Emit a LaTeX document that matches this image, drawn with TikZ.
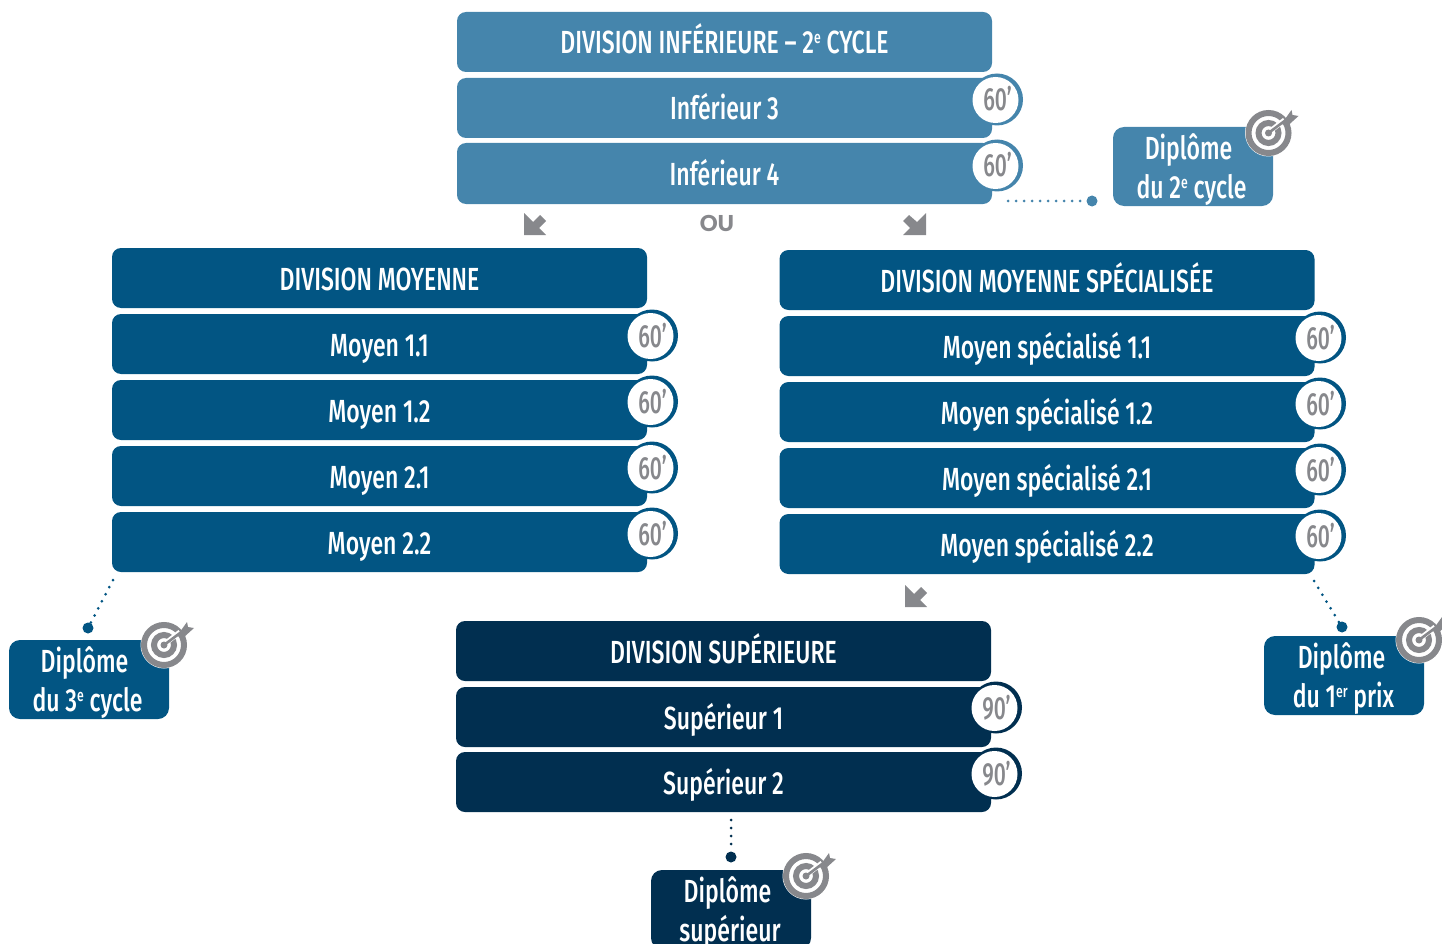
\documentclass[tikz,border=0pt]{standalone}
\usepackage{fontspec}
\setmainfont[FakeStretch=0.72]{Fira Sans Medium}
\newfontfamily\ouf{Lato Black}
\newfontfamily\tmf[FakeStretch=0.66]{Fira Sans Medium}
\definecolor{clight}{HTML}{4585AC}
\definecolor{cmid}{HTML}{025583}
\definecolor{cdark}{HTML}{012F50}
\definecolor{cgray}{HTML}{87888C}
\newcommand\sups[1]{\raisebox{10pt}{\fontsize{17}{17}\selectfont #1}}
\newcommand\lift{\rule{0pt}{31pt}}
% ring behind, white face with the minutes on top
\newcommand\timer[5]{%
  \node[timering=#2] (#1r) at (#3+1.5,#4-0.5) {};
  \node[timeface] (#1) at (#3,#4) {\kern4pt #5’};
}
\tikzset{
  x=1pt,y=-1pt,
  rowbox/.style={rounded corners=9pt,inner sep=0pt,minimum width=535pt,minimum height=60pt,
    text=white,font=\fontsize{32}{32}\selectfont,text height=24pt,text depth=0pt,align=center},
  timering/.style={circle,fill=#1,inner sep=0pt,minimum size=52pt},
  timeface/.style={circle,fill=white,inner sep=0pt,minimum size=46pt,
    text=cgray,font=\tmf\fontsize{32}{32}\selectfont,text height=22pt,text depth=0pt},
  diplo/.style={rounded corners=11pt,fill=#1,inner sep=0pt,minimum width=160pt,minimum height=79pt,
    text=white,font=\fontsize{32}{39}\selectfont,align=center},
  enddot/.style={circle,fill=#1,inner sep=0pt,minimum size=11pt},
  link/.style={draw=#1,line width=3pt,line cap=round,dash pattern=on 0pt off 8pt},
  bigarrow/.style={fill=cgray,draw=none},
  target/.pic={
    \fill[white] (0,0) circle (23.5);
    \draw[cgray,line width=6pt] (0,0) circle (20);
    \draw[cgray,line width=6pt] (0,0) circle (10);
    \draw[white,line width=5pt] (3,-3) -- (16,-13);
    \fill[cgray] (0,0) circle (3.5);
    \draw[cgray,line width=2.6pt] (0,0) -- (20,-15);
    \fill[cgray] (13,-9) -- (23,-23) -- (24,-18) -- (30,-17) -- (19,-7) -- cycle;
  },
}
\begin{document}
\begin{tikzpicture}
\useasboundingbox (0,0) rectangle (1442,944);
\clip (0,0) rectangle (1442,944);
% Division inferieure
\node[rowbox,fill=clight] (i0) at (724.5,42) {DIVISION INFÉRIEURE – 2\sups{e} CYCLE};
\node[rowbox,fill=clight] (i1) at (724.5,108) {Inférieur 3};
\node[rowbox,fill=clight,minimum height=61pt] (i2) at (724.5,173.5) {Inférieur 4};
\timer{ti1}{clight}{995.5}{100}{60}
\timer{ti2}{clight}{995.5}{166}{60}
% Division moyenne
\node[rowbox,fill=cmid] (m0) at (379.5,278) {DIVISION MOYENNE};
\node[rowbox,fill=cmid] (m1) at (379.5,344) {Moyen 1.1};
\node[rowbox,fill=cmid] (m2) at (379.5,410) {Moyen 1.2};
\node[rowbox,fill=cmid] (m3) at (379.5,476) {Moyen 2.1};
\node[rowbox,fill=cmid] (m4) at (379.5,542) {Moyen 2.2};
\timer{tm1}{cmid}{650.5}{336}{60}
\timer{tm2}{cmid}{650.5}{402}{60}
\timer{tm3}{cmid}{650.5}{468}{60}
\timer{tm4}{cmid}{650.5}{534}{60}
% Division moyenne specialisee
\node[rowbox,fill=cmid] (s0) at (1047,280) {DIVISION MOYENNE SPÉCIALISÉE};
\node[rowbox,fill=cmid] (s1) at (1047,346) {Moyen spécialisé 1.1};
\node[rowbox,fill=cmid] (s2) at (1047,412) {Moyen spécialisé 1.2};
\node[rowbox,fill=cmid] (s3) at (1047,478) {Moyen spécialisé 2.1};
\node[rowbox,fill=cmid] (s4) at (1047,544) {Moyen spécialisé 2.2};
\timer{ts1}{cmid}{1318.5}{338}{60}
\timer{ts2}{cmid}{1318.5}{404}{60}
\timer{ts3}{cmid}{1318.5}{470}{60}
\timer{ts4}{cmid}{1318.5}{536}{60}
% Division superieure
\node[rowbox,fill=cdark] (u0) at (723.5,651) {DIVISION SUPÉRIEURE};
\node[rowbox,fill=cdark] (u1) at (723.5,717) {Supérieur 1};
\node[rowbox,fill=cdark] (u2) at (723.5,782) {Supérieur 2};
\timer{tu1}{cdark}{994.5}{708}{90}
\timer{tu2}{cdark}{994.5}{774}{90}
% Diplomes
\node[diplo=clight] (d2) at (1193,166.5) {\lift Diplôme\kern9pt\\du 2\sups{e} cycle\kern3pt};
\node[diplo=cmid] (d3) at (89,679.5) {\lift Diplôme\kern9pt\\du 3\sups{e} cycle\kern3pt};
\node[diplo=cmid] (d1) at (1344,675.5) {\lift Diplôme\kern5pt\\du 1\sups{er} prix\kern1pt};
\node[diplo=cdark] (ds) at (731,909.5) {\lift Diplôme\kern7pt\\supérieur\kern2pt};
\pic at (1268.5,133) {target};
\pic at (164,645) {target};
\pic at (1419,640) {target};
\pic at (806,876) {target};
% Dotted connectors
\coordinate (c2) at (1008,201);
\node[enddot=clight] (e2) at (1092,201) {};
\path[link=clight] (c2) -- (e2);
\coordinate (c3) at (113,580);
\node[enddot=cmid] (e3) at (88,628) {};
\path[link=cmid] (c3) -- (e3);
\coordinate (c1) at (1314,581);
\node[enddot=cmid] (e1) at (1342,627) {};
\path[link=cmid] (c1) -- (e1);
\coordinate (cs) at (731,820);
\node[enddot=cdark] (es) at (731,857) {};
\path[link=cdark] (cs) -- (es);
% Block arrows
\fill[bigarrow] (524,213) -- (524,235) -- (546,235) -- (539,228) -- (546,221) -- (540,215) -- (533,222) -- cycle;
\fill[bigarrow] (926,213) -- (926,235) -- (903,235) -- (910,228) -- (903,221) -- (909,215) -- (917,222) -- cycle;
\fill[bigarrow] (905,585) -- (905,607) -- (927,607) -- (920,600) -- (927,593) -- (921,587) -- (914,594) -- cycle;
\node[text=cgray,inner sep=0pt,font=\ouf\fontsize{22}{22}\selectfont] (ou) at (717,223) {OU};
\end{tikzpicture}
\end{document}
